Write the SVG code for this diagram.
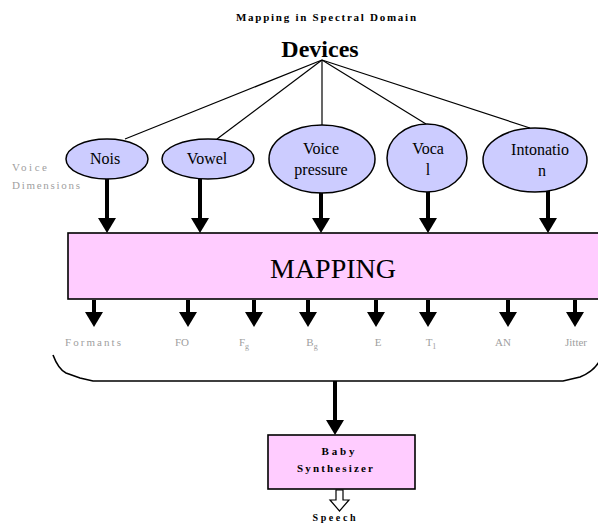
<svg xmlns="http://www.w3.org/2000/svg" width="598" height="527" viewBox="0 0 598 527">
  <defs>
    <style>
      .dim{fill:#ccccff;stroke:#000;stroke-width:1.5}
      .box{fill:#ffccff;stroke:#000;stroke-width:1.6}
      .t{font-family:"Liberation Serif","Times New Roman",serif;fill:#000;text-anchor:middle}
      .node{font-size:16px}
      .param{font-family:"Liberation Serif","Times New Roman",serif;font-size:11px;fill:#a0a0a0;text-anchor:middle}
      .side{font-family:"Liberation Serif","Times New Roman",serif;font-size:11px;fill:#a0a0a0}
      .thin{stroke:#000;stroke-width:1.2;fill:none}
      .thick{stroke:#000;stroke-width:4;fill:none;marker-end:url(#head)}
    </style>
    <marker id="head" markerUnits="userSpaceOnUse" markerWidth="15" markerHeight="18" viewBox="0 0 15 18" refX="5" refY="9" orient="auto">
      <path d="M0,0 L15,9 L0,18 z" fill="#000"/>
    </marker>
  </defs>

  <rect width="598" height="527" fill="#fff"/>

  <!-- headings -->
  <text class="t" x="326" y="21" font-size="11" font-weight="bold" textLength="180" lengthAdjust="spacing">Mapping in Spectral Domain</text>
  <g id="devices">
    <text class="t" x="320" y="57" font-size="24" font-weight="bold">Devices</text>
  </g>
  <text class="side" x="12" y="171" textLength="35" lengthAdjust="spacing">Voice</text>
  <text class="side" x="12" y="189" textLength="68" lengthAdjust="spacing">Dimensions</text>

  <!-- connectors -->
  <g id="connectors">
    <line class="thin" x1="322" y1="60" x2="125" y2="139"/>
    <line class="thin" x1="322" y1="60" x2="217" y2="139"/>
    <line class="thin" x1="322" y1="60" x2="322" y2="125"/>
    <line class="thin" x1="322" y1="60" x2="426" y2="124"/>
    <line class="thin" x1="322" y1="60" x2="530" y2="128"/>

    <line class="thick" x1="107" y1="179" x2="107" y2="223"/>
    <line class="thick" x1="200" y1="179" x2="200" y2="223"/>
    <line class="thick" x1="321" y1="193" x2="321" y2="223"/>
    <line class="thick" x1="428" y1="192" x2="428" y2="223"/>
    <line class="thick" x1="548" y1="191" x2="548" y2="223"/>

    <line class="thick" x1="94" y1="300" x2="94" y2="317"/>
    <line class="thick" x1="188" y1="300" x2="188" y2="317"/>
    <line class="thick" x1="254" y1="300" x2="254" y2="317"/>
    <line class="thick" x1="308" y1="300" x2="308" y2="317"/>
    <line class="thick" x1="376" y1="300" x2="376" y2="317"/>
    <line class="thick" x1="428" y1="300" x2="428" y2="317"/>
    <line class="thick" x1="508" y1="300" x2="508" y2="317"/>
    <line class="thick" x1="575" y1="300" x2="575" y2="317"/>

    <path d="M53,355 C56,363 60,370 66,373 L80,378 L93,381 L563,381 L580,377 C590,373 596,368 600,360" stroke="#000" stroke-width="1.6" fill="none"/>
    <line class="thick" x1="335" y1="381" x2="335" y2="425"/>

    <polygon points="336,490 343,490 343,500 349,500 339.5,511 330,500 336,500" fill="#fff" stroke="#000" stroke-width="1.2"/>
  </g>

  <!-- voice dimension nodes -->
  <g id="nois">
    <ellipse class="dim" cx="107" cy="159" rx="41" ry="20"/>
    <text class="t node" x="105" y="164">Nois</text>
  </g>
  <g id="vowel">
    <ellipse class="dim" cx="208" cy="159" rx="46" ry="20"/>
    <text class="t node" x="207" y="164">Vowel</text>
  </g>
  <g id="voice-pressure">
    <ellipse class="dim" cx="322" cy="159" rx="53" ry="34"/>
    <text class="t node" x="321" y="154">Voice</text>
    <text class="t node" x="321" y="175">pressure</text>
  </g>
  <g id="vocal">
    <ellipse class="dim" cx="427" cy="158" rx="40" ry="34"/>
    <text class="t node" x="428" y="154">Voca</text>
    <text class="t node" x="428" y="175">l</text>
  </g>
  <g id="intonation">
    <ellipse class="dim" cx="535" cy="160" rx="52" ry="32"/>
    <text class="t node" x="540" y="155">Intonatio</text>
    <text class="t node" x="542" y="176">n</text>
  </g>

  <!-- mapping block -->
  <g id="mapping">
    <rect class="box" x="68" y="233" width="540" height="66"/>
    <text class="t" x="333" y="278" font-size="28">MAPPING</text>
  </g>

  <!-- synthesis parameters -->
  <g id="parameters">
    <text class="param" x="93" y="346" textLength="56" lengthAdjust="spacing">Formants</text>
    <text class="param" x="182" y="346">FO</text>
    <text class="param" x="244" y="346">F<tspan font-size="8" dy="3">g</tspan></text>
    <text class="param" x="312" y="346">B<tspan font-size="8" dy="3">g</tspan></text>
    <text class="param" x="378" y="346">E</text>
    <text class="param" x="431" y="346">T<tspan font-size="8" dy="3">1</tspan></text>
    <text class="param" x="503" y="346">AN</text>
    <text class="param" x="576" y="346">Jitter</text>
  </g>

  <!-- synthesizer -->
  <g id="baby-synthesizer">
    <rect class="box" x="268" y="435" width="147" height="54" stroke-width="2"/>
    <text class="t" x="338" y="455" font-size="11" font-weight="bold" textLength="33" lengthAdjust="spacing">Baby</text>
    <text class="t" x="335" y="472" font-size="11" font-weight="bold" textLength="76" lengthAdjust="spacing">Synthesizer</text>
  </g>
  <g id="speech">
    <text class="t" x="334" y="521" font-size="10" font-weight="bold" textLength="43" lengthAdjust="spacing">Speech</text>
  </g>
</svg>
